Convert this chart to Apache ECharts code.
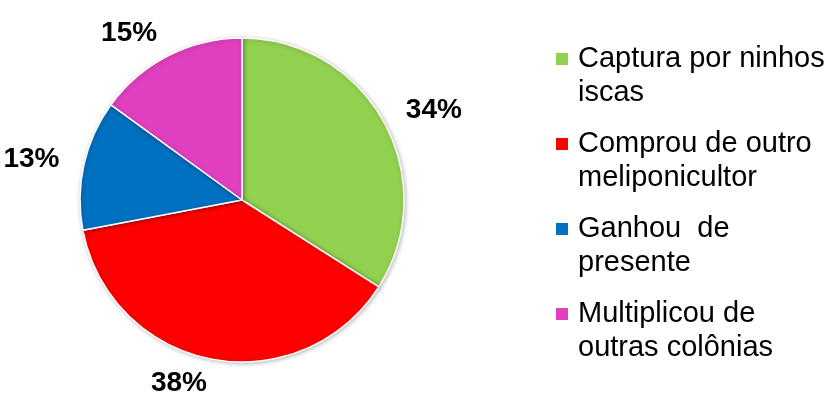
<!DOCTYPE html>
<html>
<head>
<meta charset="utf-8">
<script src="https://cdn.jsdelivr.net/npm/echarts@6/dist/echarts.min.js"></script>
<style>
  html, body { margin: 0; padding: 0; background: #ffffff; }
  #chart { width: 839px; height: 397px; }
</style>
</head>
<body>
<div id="chart"></div>
<script>
const categories = [
  'Captura por ninhos\niscas',
  'Comprou de outro\nmeliponicultor',
  'Ganhou  de\npresente',
  'Multiplicou de\noutras colônias'
];
const values = [34, 38, 13, 15];
const colors = ['#92D050', '#FF0000', '#0070C0', '#E040C0'];

const chart = echarts.init(document.getElementById('chart'), null, { renderer: 'canvas' });
const FONT = '"Liberation Sans", Arial, sans-serif';

chart.setOption({
  animation: false,
  backgroundColor: '#ffffff',
  legend: {
    orient: 'vertical',
    left: 556,
    top: 42,
    padding: 0,
    itemWidth: 17,
    itemHeight: 68,
    itemGap: 17,
    icon: 'path://M0,0L17,0M0,11L12,11L12,23L0,23ZM0,68L17,68',
    itemStyle: { borderWidth: 0 },
    textStyle: {
      fontFamily: FONT,
      fontSize: 29,
      lineHeight: 34,
      color: '#000000'
    },
    data: categories
  },
  series: [{
    type: 'pie',
    center: [242, 200],
    radius: 162,
    startAngle: 90,
    clockwise: true,
    avoidLabelOverlap: false,
    itemStyle: {
      borderColor: '#ffffff',
      borderWidth: 1.5,
      shadowBlur: 4,
      shadowOffsetX: 1,
      shadowOffsetY: 1,
      shadowColor: 'rgba(0,0,0,0.25)'
    },
    label: {
      show: true,
      position: 'outside',
      formatter: '{c}%',
      fontFamily: FONT,
      fontSize: 28,
      fontWeight: 'bold',
      color: '#000000',
      distanceToLabelLine: 0
    },
    labelLine: { show: false, length: 25, length2: 0 },
    emphasis: { disabled: true },
    data: categories.map((n, i) => ({ name: n, value: values[i], itemStyle: { color: colors[i] } }))
  }]
});
</script>
</body>
</html>
